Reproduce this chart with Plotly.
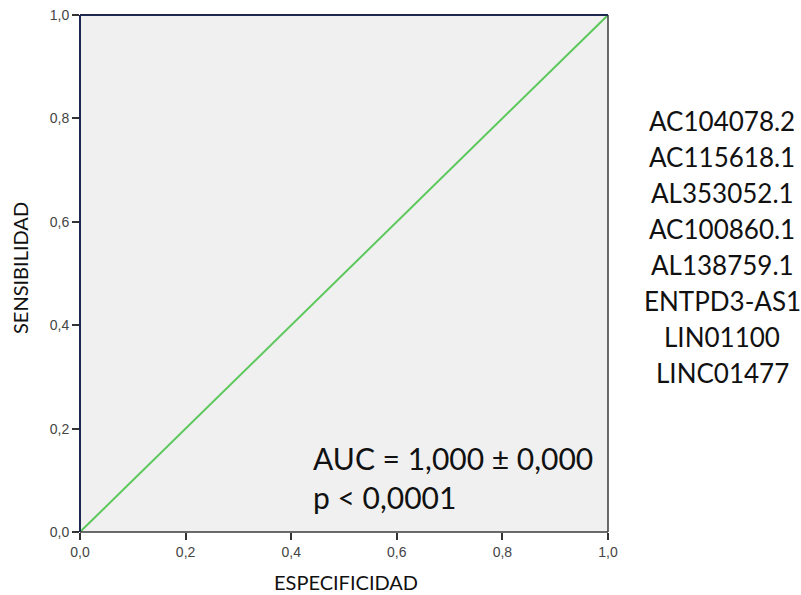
import plotly.graph_objects as go

# Data
roc_x = [0.0, 1.0]
roc_y = [0.0, 1.0]
tick_vals = [0.0, 0.2, 0.4, 0.6, 0.8, 1.0]
tick_text = ["0,0", "0,2", "0,4", "0,6", "0,8", "1,0"]
genes = ["AC104078.2", "AC115618.1", "AL353052.1", "AC100860.1",
         "AL138759.1", "ENTPD3-AS1", "LIN01100", "LINC01477"]
stats_lines = ["AUC = 1,000 ± 0,000", "p < 0,0001"]

W, H = 801, 595
L, R, T, B = 80, 193, 15, 63
PH = H - T - B

def py(pix):
    return (H - B - pix) / PH

def px(pix):
    return (pix - L) / (W - L - R)

fig = go.Figure()
fig.add_trace(go.Scatter(x=roc_x, y=roc_y, mode="lines",
                         line=dict(color="#5cc85c", width=2), showlegend=False,
                         hoverinfo="skip"))

axis_common = dict(range=[0, 1], tickvals=tick_vals, ticktext=tick_text,
                   showgrid=False, zeroline=False, ticks="outside", ticklen=7,
                   tickcolor="#333333", tickwidth=1.5, automargin=False,
                   tickfont=dict(family="Liberation Sans, Arial", size=14, color="#444444"),
                   showline=False)

fig.update_layout(
    width=W, height=H,
    margin=dict(l=L, r=R, t=T, b=B),
    paper_bgcolor="white", plot_bgcolor="#f0f0f0",
    xaxis=dict(**axis_common),
    yaxis=dict(**axis_common),
)

# frame edges
fig.add_shape(type="line", xref="paper", yref="paper", x0=0, x1=0, y0=0, y1=1,
              line=dict(color="#1c2850", width=2))
fig.add_shape(type="line", xref="paper", yref="paper", x0=0, x1=1, y0=1, y1=1,
              line=dict(color="#1c2850", width=2))
fig.add_shape(type="line", xref="paper", yref="paper", x0=0, x1=1, y0=0, y1=0,
              line=dict(color="#3a3a3a", width=1.5))
fig.add_shape(type="line", xref="paper", yref="paper", x0=1, x1=1, y0=0, y1=1,
              line=dict(color="#3a3a3a", width=1.5))

title_font = dict(family="Lato, Open Sans", size=20, color="#111111")
fig.add_annotation(x=px(346), y=py(582), xref="paper", yref="paper", showarrow=False,
                   xanchor="center", yanchor="middle", text="ESPECIFICIDAD", font=title_font)
fig.add_annotation(x=px(20), y=py(268), xref="paper", yref="paper", showarrow=False,
                   xanchor="center", yanchor="middle", text="SENSIBILIDAD", textangle=-90,
                   font=title_font)

# stats text
stat_font = dict(family="Lato, Open Sans", size=30, color="#111111")
for i, s in enumerate(stats_lines):
    fig.add_annotation(x=px(311), y=py(458 + 39 * i), xref="paper", yref="paper",
                       xanchor="left", yanchor="middle", showarrow=False,
                       text=s, font=stat_font)

# gene list
gene_font = dict(family="Lato, Open Sans", size=26, color="#111111")
for i, g in enumerate(genes):
    fig.add_annotation(x=px(722), y=py(121 + 36 * i), xref="paper", yref="paper",
                       xanchor="center", yanchor="middle", showarrow=False,
                       text=g, font=gene_font)

fig.write_html("out.html")
